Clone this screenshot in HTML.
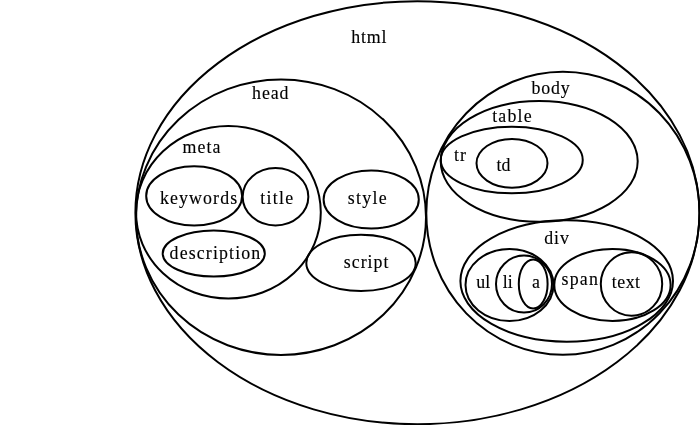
<!DOCTYPE html>
<html><head><meta charset="utf-8"><style>
html,body{margin:0;padding:0;background:#fff;}
svg{display:block;will-change:transform;}
text{font-family:"Liberation Serif",serif;font-size:19.0px;fill:#000;stroke:#000;stroke-width:0.15px;}
</style></head><body>
<svg width="700" height="425" viewBox="0 0 700 425">
<g fill="none" stroke="#000" stroke-width="2">
<ellipse cx="417.4" cy="212.7" rx="282" ry="211.5"/>
<ellipse cx="281" cy="217.2" rx="145" ry="137.7"/>
<ellipse cx="228.4" cy="212.3" rx="92.4" ry="86.3"/>
<ellipse cx="194.15" cy="195.9" rx="47.95" ry="29.6"/>
<ellipse cx="275.5" cy="196.7" rx="32.85" ry="28.7"/>
<ellipse cx="213.75" cy="253.5" rx="51.05" ry="23"/>
<ellipse cx="371.2" cy="199.5" rx="47.6" ry="29.05"/>
<ellipse cx="361" cy="262.9" rx="54.7" ry="28.1"/>
<ellipse cx="562.9" cy="213.3" rx="136.6" ry="141.5"/>
<ellipse cx="539.2" cy="161.35" rx="98.5" ry="60.35"/>
<ellipse cx="511.75" cy="160" rx="71" ry="33.3"/>
<ellipse cx="512" cy="163.3" rx="35.5" ry="24.4"/>
<ellipse cx="566.7" cy="281" rx="106.3" ry="60.7"/>
<ellipse cx="509.5" cy="285" rx="44" ry="36"/>
<ellipse cx="524" cy="284.1" rx="28" ry="28.5"/>
<ellipse cx="533.2" cy="283.9" rx="14.4" ry="24.5"/>
<ellipse cx="612.45" cy="284.9" rx="58.15" ry="36"/>
<ellipse cx="631.5" cy="284" rx="30.7" ry="31.7"/>
</g>
<text transform="translate(351.3,43.1) scale(0.94,1)" letter-spacing="0.851">html</text>
<text transform="translate(252.1,98.7) scale(0.94,1)" letter-spacing="0.922">head</text>
<text transform="translate(182.5,152.7) scale(0.94,1)" letter-spacing="1.135">meta</text>
<text transform="translate(159.9,203.9) scale(0.94,1)" letter-spacing="1.201">keywords</text>
<text transform="translate(260.3,203.6) scale(0.94,1)" letter-spacing="1.33">title</text>
<text transform="translate(169.6,258.6) scale(0.94,1)" letter-spacing="1.213">description</text>
<text transform="translate(347.7,203.9) scale(0.94,1)" letter-spacing="1.41">style</text>
<text transform="translate(343.7,267.5) scale(0.94,1)" letter-spacing="1.106">script</text>
<text transform="translate(531.4,93.9) scale(0.94,1)" letter-spacing="0.887">body</text>
<text transform="translate(492.2,122.3) scale(0.94,1)" letter-spacing="1.277">table</text>
<text transform="translate(454.0,161.2) scale(0.94,1)" letter-spacing="1.064">tr</text>
<text transform="translate(496.5,170.5) scale(0.94,1)" letter-spacing="0.0">td</text>
<text transform="translate(544.3,243.7) scale(0.94,1)" letter-spacing="0.957">div</text>
<text transform="translate(476.2,287.8) scale(0.94,1)" letter-spacing="0.213">ul</text>
<text transform="translate(502.7,287.8) scale(0.94,1)" letter-spacing="0.213">li</text>
<text transform="translate(532.0,287.8) scale(0.94,1)" letter-spacing="0">a</text>
<text transform="translate(561.6,284.6) scale(0.94,1)" letter-spacing="1.241">span</text>
<text transform="translate(611.7,287.8) scale(0.94,1)" letter-spacing="0.567">text</text>
</svg>
</body></html>
